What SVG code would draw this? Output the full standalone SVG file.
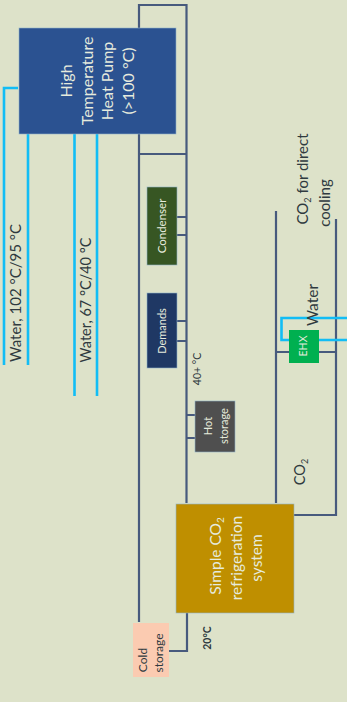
<svg xmlns="http://www.w3.org/2000/svg" width="347" height="702" viewBox="0 0 347 702">
<style>
.p{fill:none;stroke:#475a7d;stroke-width:2.2}
.w{fill:none;stroke:#12bdf5;stroke-width:2.6}
text{font-family:Lato,"Liberation Sans",sans-serif;text-anchor:middle}
.l{fill:#e6ebdd}
.d{fill:#2f3a3f}
.box{stroke:#8fb3c9;stroke-width:.6}
</style>
<rect width="347" height="702" fill="#dde2c9"/>
<g id="connectors">
<path class="p" d="M139 28V5H186.500V154M139 134V622M139 154H186.500M186.500 154V503M187 217H176M187 235H176M187 321H176M187 341H176M187 415H196M187 438H196M187 613V651H169"/>
<path class="p" d="M276 211V503M336 219V515H294M276 352H336"/>
<path class="w" d="M18 88H4V365M28 134V365M74.500 134V396M97 134V396"/>
<path class="w" d="M347 318H281.500V340H347"/>
</g>
<g id="heat-pump"><rect class="box" x="19" y="28" width="157" height="106" fill="#2b5291"/>
<text class="l" font-size="16" transform="translate(72 81) rotate(-90)">High</text>
<text class="l" font-size="16" transform="translate(93 81) rotate(-90)">Temperature</text>
<text class="l" font-size="16" transform="translate(113 81) rotate(-90)">Heat Pump</text>
<text class="l" font-size="16" transform="translate(134 81) rotate(-90)">(&gt;100 °C)</text></g>
<g id="condenser"><rect class="box" x="147" y="187" width="30" height="78" fill="#375623"/>
<text class="l" font-size="11.500" transform="translate(166 226) rotate(-90)">Condenser</text></g>
<g id="demands"><rect class="box" x="147" y="293" width="30" height="75" fill="#1f3864"/>
<text class="l" font-size="11" transform="translate(166 331) rotate(-90)">Demands</text></g>
<g id="hot-storage"><rect class="box" x="195" y="401" width="40" height="51" fill="#4f4f4f"/>
<text class="l" font-size="11" transform="translate(212 426) rotate(-90)">Hot</text>
<text class="l" font-size="11" transform="translate(228 426) rotate(-90)">storage</text></g>
<g id="ehx"><rect x="289" y="330" width="30" height="33" fill="#00b050"/>
<text class="l" font-size="10.500" transform="translate(307 346) rotate(-90)">EHX</text></g>
<g id="refrigeration"><rect class="box" x="176" y="504" width="118" height="109" fill="#bf8f00"/>
<text class="l" font-size="15.500" transform="translate(221 556) rotate(-90)">Simple CO<tspan font-size="10" dy="3">2</tspan></text>
<text class="l" font-size="15.500" transform="translate(242 558) rotate(-90)">refrigeration</text>
<text class="l" font-size="15.500" transform="translate(262 558) rotate(-90)">system</text></g>
<g id="cold-storage"><rect x="133" y="623" width="36" height="54" fill="#fbcbb1"/>
<text class="d" font-size="12" transform="translate(147 660) rotate(-90)">Cold</text>
<text class="d" font-size="12" transform="translate(163 653) rotate(-90)">storage</text></g>
<g id="labels">
<text class="d" font-size="15" transform="translate(21 293) rotate(-90)">Water, 102 °C/95 °C</text>
<text class="d" font-size="14.500" transform="translate(91 300) rotate(-90)">Water, 67 °C/40 °C</text>
<text class="d" font-size="10.500" transform="translate(201 369) rotate(-90)">40+ °C</text>
<text class="d" font-size="15" transform="translate(308 179) rotate(-90)">CO<tspan font-size="9" dy="3">2</tspan><tspan dy="-3"> for direct</tspan></text>
<text class="d" font-size="15" transform="translate(330 203) rotate(-90)">cooling</text>
<text class="d" font-size="15.500" transform="translate(318 305) rotate(-90)">Water</text>
<text class="d" font-size="14.500" transform="translate(305 472) rotate(-90)">CO<tspan font-size="9" dy="3">2</tspan></text>
<text class="d" font-size="10.500" font-weight="bold" transform="translate(211 638) rotate(-90)">20°C</text>
</g>
</svg>
